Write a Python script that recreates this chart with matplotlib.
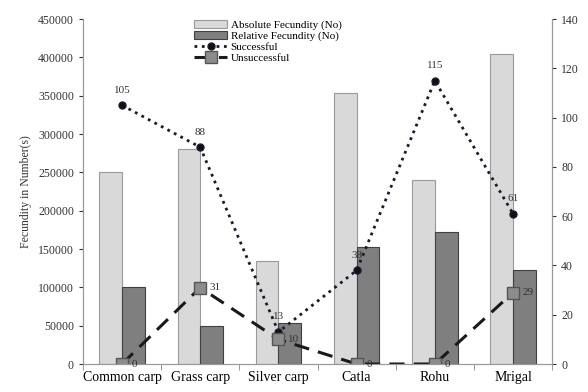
import matplotlib.pyplot as plt
import numpy as np

plt.rcParams['font.family'] = ['Liberation Serif', 'DejaVu Serif']

species = ['Common carp', 'Grass carp', 'Silver carp', 'Catla', 'Rohu', 'Mrigal']
absolute_fecundity = [250000, 280000, 135000, 353000, 240000, 405000]
relative_fecundity = [100000, 50000, 53000, 152000, 172000, 123000]
successful = [105, 88, 13, 38, 115, 61]
unsuccessful = [0, 31, 10, 0, 0, 29]

x = np.arange(len(species))
width = 0.29

fig = plt.figure(figsize=(5.88, 3.92), dpi=100)
ax = fig.add_axes([0.141, 0.0714, 0.798, 0.88])
ax2 = ax.twinx()

ax.bar(x - width / 2, absolute_fecundity, width, color='#d9d9d9', edgecolor='#9a9a9a',
       linewidth=0.8, label='Absolute Fecundity (No)')
ax.bar(x + width / 2, relative_fecundity, width, color='#7f7f7f', edgecolor='#404040',
       linewidth=0.8, label='Relative Fecundity (No)')

ax2.plot(x, successful, linestyle=':', color='#1a1a2e', linewidth=2, marker='o',
         markersize=5, markerfacecolor='#111111', label='Successful')
ax2.plot(x, unsuccessful, linestyle=(0, (5, 3)), color='#1a1a1a', linewidth=2.2, marker='s',
         markersize=8, markerfacecolor='#8c8c8c', markeredgecolor='#555555', label='Unsuccessful')

for xi, v in zip(x, successful):
    ax2.annotate(str(v), (xi, v), textcoords='offset points', xytext=(0, 9),
                 ha='center', fontsize=8, color='#333333')
for xi, v in zip(x, unsuccessful):
    ax2.annotate(str(v), (xi, v), textcoords='offset points', xytext=(7, 0),
                 ha='left', va='center', fontsize=8, color='#333333')

ax.set_xlim(-0.5, len(species) - 0.5)
ax.set_ylim(0, 450000)
ax.set_yticks(np.arange(0, 450001, 50000))
ax2.set_ylim(0, 140)
ax2.set_yticks(np.arange(0, 141, 20))

ax.set_xticks(x)
ax.set_xticklabels(species, fontsize=10)
ax.set_xticks(np.arange(-0.5, len(species), 1), minor=True)
ax.tick_params(axis='x', which='major', length=0, pad=5)
ax.tick_params(axis='x', which='minor', length=4, color='#888888')
ax.tick_params(axis='y', labelsize=8.5, colors='#333333', length=3)
ax2.tick_params(axis='y', labelsize=8.5, colors='#333333', length=3)
ax.set_ylabel('Fecundity in Number(s)', fontsize=8.5, color='#333333')

for a in (ax, ax2):
    a.spines['top'].set_visible(False)
    for s in ('left', 'right', 'bottom'):
        a.spines[s].set_color('#999999')

h1, l1 = ax.get_legend_handles_labels()
h2, l2 = ax2.get_legend_handles_labels()
ax.legend(h1 + h2, l1 + l2, loc='upper left', bbox_to_anchor=(0.22, 1.02), frameon=False,
          fontsize=8, handlelength=3, labelspacing=0.1, borderpad=0.2, handletextpad=0.3)

fig.savefig('out.png', dpi=100)
